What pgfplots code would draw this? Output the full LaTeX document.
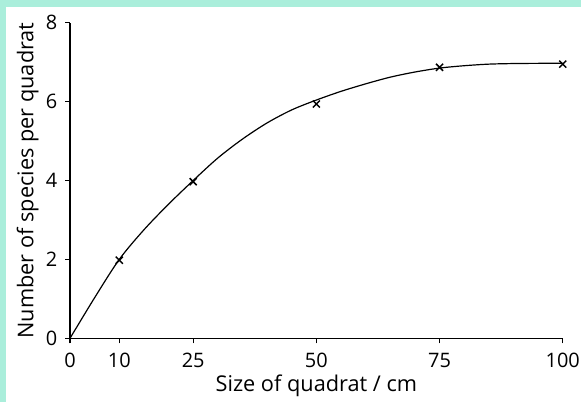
\documentclass[border=0pt]{standalone}
\usepackage{pgfplots}
\pgfplotsset{compat=1.18}
\usepackage{fontspec}
\setmainfont{Open Sans}
\definecolor{mint}{RGB}{170,238,219}
\begin{document}
\begin{tikzpicture}[x=1bp,y=1bp]
\useasboundingbox (0,0) rectangle (581,-402);
\fill[mint] (0,0) rectangle (581,-402);
\fill[white] (6,-6.7) rectangle (581,-402);
\begin{axis}[
  at={(70bp,-338.3bp)}, anchor=origin,
  scale only axis, width=492.7bp, height=315.6bp,
  xmin=0, xmax=100, ymin=0, ymax=8,
  axis lines*=left,
  axis line style={line width=1.6bp, -},
  xtick={0,10,25,50,75,100}, ytick={0,2,4,6,8},
  tick align=outside, major tick length=5bp,
  tick style={line width=1.2bp, black},
  /pgf/number format/assume math mode=true,
  ticklabel style={font=\fontsize{20}{22}\selectfont},
  label style={font=\fontsize{21.8}{24}\selectfont},
  xticklabel style={anchor=base, inner sep=0pt, yshift=-23.7bp},
  yticklabel style={anchor=east, inner sep=0pt, xshift=-7.5bp},
  xlabel={Size of quadrat / cm},
  ylabel={Number of species per quadrat},
  xlabel style={at={(axis description cs:0.5,-0.167)}, anchor=base, inner sep=0pt},
  ylabel style={at={(axis description cs:-0.0745,0.5)}, anchor=base, inner sep=0pt},
  clip=false,
]
\addplot[black, line width=1.2bp, smooth] coordinates {
(0,0) (5,1.03) (10,2.0) (15,2.75) (20,3.40) (25,4.0) (30,4.57) (35,5.05)
(40,5.46) (45,5.79) (50,6.04) (55,6.26) (60,6.45) (65,6.62) (70,6.75)
(75,6.85) (80,6.91) (85,6.95) (90,6.965) (95,6.97) (100,6.97)};
\addplot[only marks, mark=x, mark size=5bp, black, line width=1.5bp] coordinates {
(10,1.98) (25,3.97) (50,5.94) (75,6.87) (100,6.95)};
\end{axis}
\end{tikzpicture}
\end{document}
